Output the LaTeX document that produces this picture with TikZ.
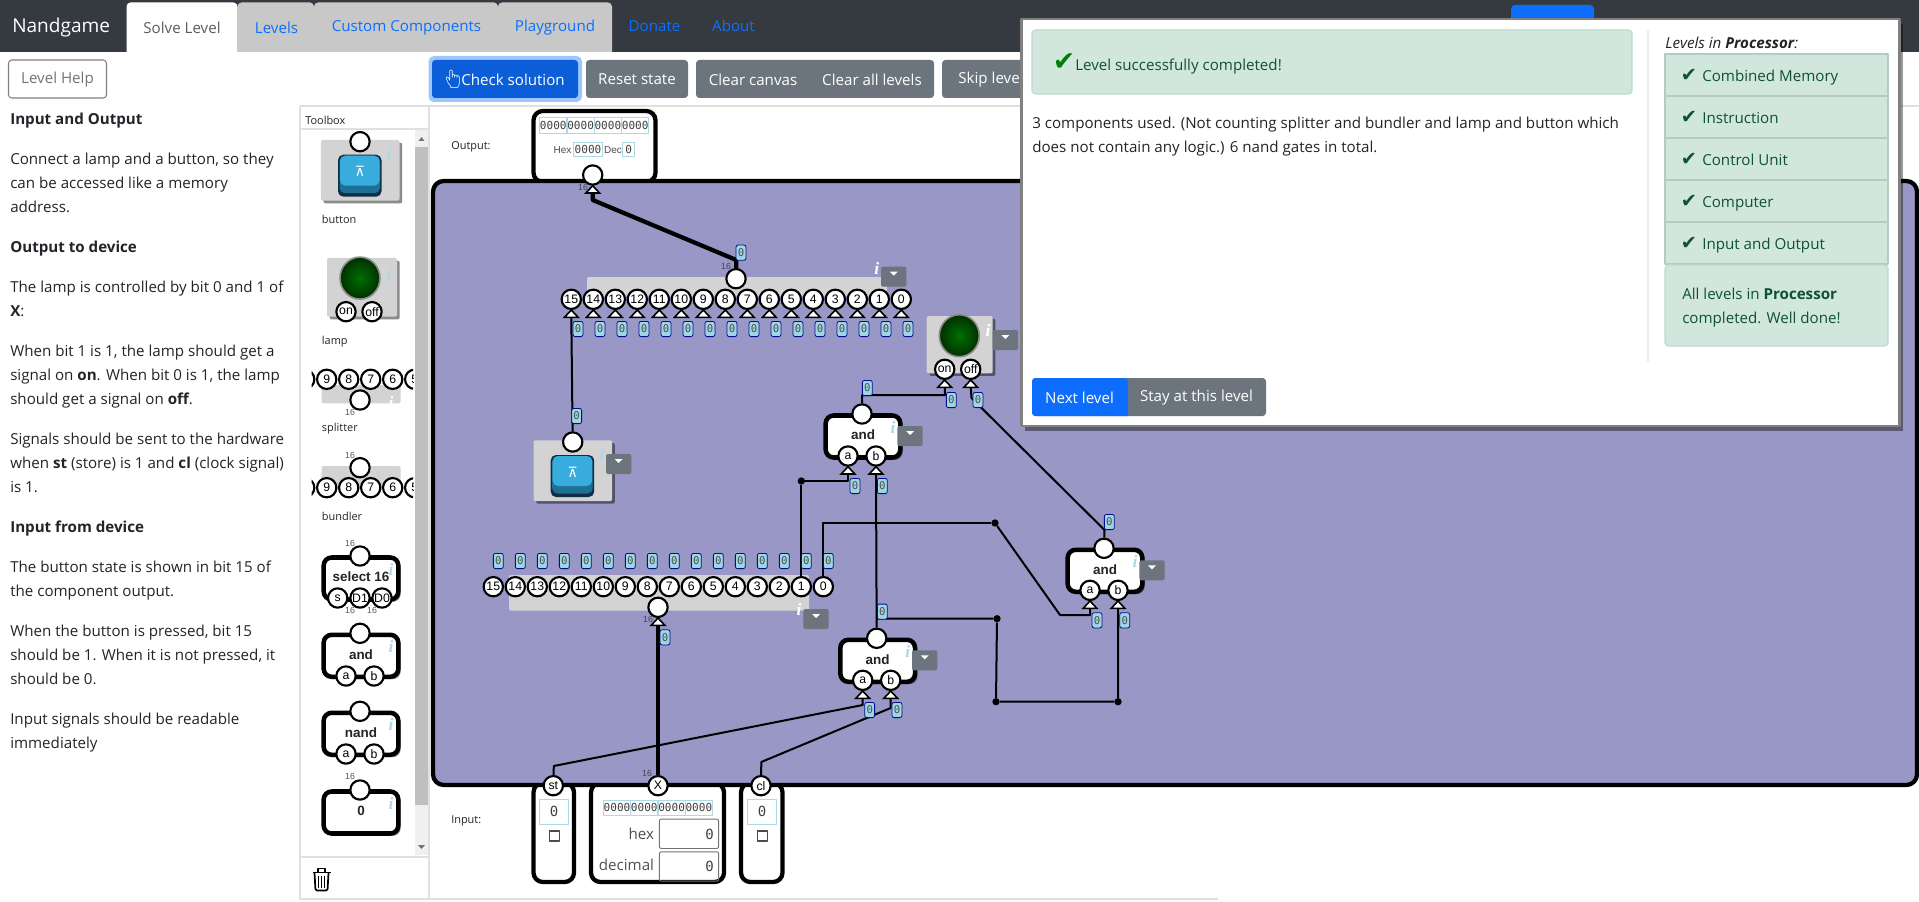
\documentclass[tikz,border=0pt]{standalone}
\usepackage{fontspec}
\setmainfont{Open Sans}
\newfontfamily\pinfont{Liberation Sans}
\newfontfamily\codefont{DejaVu Sans Mono}
\newfontfamily\dejafont{DejaVu Sans}
\newfontfamily\emojifont{Noto Emoji}
\newfontfamily\infofont{Liberation Serif}
\usetikzlibrary{shadows}

\definecolor{navdark}{HTML}{343A40}
\definecolor{tabgrey}{HTML}{C8C8C8}
\definecolor{linkblue}{HTML}{0D6EFD}
\definecolor{btngrey}{HTML}{6C757D}
\definecolor{bodyink}{HTML}{212529}
\definecolor{canvaspurple}{HTML}{9897C5}
\definecolor{partgrey}{HTML}{D3D3D3}
\definecolor{fieldblue}{HTML}{ADD8E6}
\definecolor{tagblue}{HTML}{A0D6E4}
\definecolor{tagnavy}{HTML}{00108C}
\definecolor{okgreen}{HTML}{D1E7DD}
\definecolor{okline}{HTML}{BADBCC}
\definecolor{okink}{HTML}{0F5132}
\definecolor{okedge}{HTML}{B4CBC1}
\definecolor{keytop}{HTML}{38ACDC}
\definecolor{keymid}{HTML}{1F7096}
\definecolor{keylow}{HTML}{0F2F45}
\definecolor{globein}{HTML}{007000}
\definecolor{globeout}{HTML}{003000}

\tikzset{
  uitext/.style={anchor=base west,inner sep=0pt,yshift=-0.7pt,text=bodyink,font=\fontsize{11.35}{14}\selectfont},
  btntext/.style={inner sep=0pt,text=white,font=\fontsize{11.35}{14}\selectfont},
  smalltext/.style={anchor=base west,inner sep=0pt,text=bodyink,font=\fontsize{8.2}{10}\selectfont},
  port/.style={circle,draw=black,line width=1.6pt,fill=white,minimum size=14.5pt,inner sep=0pt,text=black,font=\pinfont\fontsize{9.2}{10}\selectfont},
  tipmark/.style={draw=black,fill=white,line width=1.2pt,line join=miter},
  bittag/.style={draw=tagnavy,fill=tagblue,line width=0.6pt,rounded corners=1.5pt,minimum width=7.4pt,minimum height=11.4pt,inner sep=0pt,text=black!70,font=\codefont\fontsize{8}{9}\selectfont},
  wire/.style={draw=black,line width=1.5pt,line join=round},
  buswire/.style={draw=black,line width=3.2pt,line join=round},
  wiredot/.style={circle,fill=black,minimum size=5.5pt,inner sep=0pt},
  gatebox/.style={draw=black,fill=white,line width=3.4pt,rounded corners=6pt,minimum width=56pt,minimum height=31.5pt,inner sep=0pt,drop shadow={shadow xshift=1.8pt,shadow yshift=-1.8pt,opacity=.45,fill=black}},
  gatetext/.style={inner sep=0pt,text=bodyink,font=\pinfont\bfseries\fontsize{10.1}{12}\selectfont},
  partshadow/.style={fill=partgrey,rounded corners=1.5pt,drop shadow={shadow xshift=2pt,shadow yshift=-2pt,opacity=.45,fill=black}},
  iobox/.style={draw=black,fill=white,line width=3.2pt,rounded corners=7pt},
  menubox/.style={fill=btngrey,rounded corners=1.5pt,minimum width=19pt,minimum height=15pt,inner sep=0pt},
  infomark/.style={inner sep=0pt,text=fieldblue,font=\infofont\bfseries\itshape\fontsize{13}{13}\selectfont},
  bitnote/.style={inner sep=0pt,text=black!65,font=\pinfont\fontsize{6.6}{7}\selectfont},
  bitcell/.style={draw=fieldblue,line width=0.7pt,minimum height=11.4pt,inner sep=0pt,text=black!75,font=\codefont\fontsize{8.3}{9}\selectfont},
  valbox/.style={draw=fieldblue,line width=0.8pt,inner sep=0pt,text=black!75,font=\codefont\fontsize{10.5}{11}\selectfont},
  numbox/.style={draw=black!55,line width=0.7pt,rounded corners=1.5pt,inner sep=0pt,minimum width=44.5pt,minimum height=22pt},
  checkbox/.style={draw=black!70,line width=0.8pt,fill=white,minimum size=7.5pt,inner sep=0pt}
}

\newcommand{\printIn}[4]{
  \node[port] (#1) at (#2,#3) {#4};
  \filldraw[tipmark] (#2,#3+10.7) -- (#2+6.8,#3+18) -- (#2-6.8,#3+18) -- cycle;
  \coordinate (#1-w) at (#2,#3+18);
}
\newcommand{\printTag}[3]{\node[bittag] (#1) at (#2,#3) {0};}
\newcommand{\printMenu}[3]{
  \node[menubox] (#1) at (#2+12.7,#3+10) {};
  \fill[white] (#2+8.7,#3+5) -- (#2+16.7,#3+5) -- (#2+12.7,#3+9) -- cycle;
}
\newcommand{\printBody}[4]{
  \node[gatebox] (#1) at (#2+1,#3+22.5) {};
  \node[gatetext] (#1-t) at (#2+1,#3+21) {#4};
  \node[port] (#1-out) at (#2,#3) {};
  \node[infomark] (#1-i) at (#2+31,#3+13) {i};
}
\newcommand{\printGate}[4]{
  \printBody{#1}{#2}{#3}{#4}
  \printIn{#1-a}{#2-14}{#3+42}{a}
  \printIn{#1-b}{#2+14}{#3+42}{b}
  \printMenu{#1-m}{#2+35.3}{#3+12}
}
\newcommand{\printKey}[3]{
  \fill[partshadow] (#2-39.2,#3-1.7) rectangle (#2+39.5,#3+59);
  \fill[keylow,rounded corners=4pt] (#2-22,#3+13) rectangle (#2+21.5,#3+55);
  \fill[keymid,rounded corners=4pt] (#2-20.5,#3+14) rectangle (#2+20,#3+51.5);
  \fill[keytop,rounded corners=4pt] (#2-20,#3+14) rectangle (#2+19.5,#3+44);
  \node[port] (#1-out) at (#2,#3) {};
  \node[inner sep=0pt,text=white,font=\dejafont\fontsize{10.5}{11}\selectfont] (#1-sym) at (#2,#3+30) {⊼};
  \node[infomark] (#1-i) at (#2+29,#3+12) {i};
}
\newcommand{\printGlobe}[2]{
  \shade[inner color=globein,outer color=globeout,draw=black!45,line width=1.2pt] (#1+1.6,#2-33.6) ellipse (20 and 21);
}
\newcommand{\printBits}[3]{
  \foreach \c in {0,...,3} {
      \node[bitcell,minimum width=20.4pt] (#1-\c) at ({#2+13.7+27.3*\c},#3) {0000};
    }
}

\begin{document}
\begin{tikzpicture}[x=0.75pt,y=-0.75pt,line join=round]
  \useasboundingbox (0,0) rectangle (1919,902);

  % nav bar
  \fill[navdark] (0,0) rectangle (1919,52);
  \foreach \a/\b in {237.5/314,314/498,498/612} {
      \fill[tabgrey,rounded corners=3pt] (\a,2.5) rectangle (\b,60);
    }
  \fill[white,rounded corners=3pt] (126.5,2.5) rectangle (237.5,60);
  \fill[linkblue,rounded corners=3pt] (1511,5) rectangle (1594,30);
  \fill[white] (0,52) rectangle (1919,902);
  \node[anchor=base west,inner sep=0pt,text=white,font=\fontsize{14.3}{16}\selectfont] (brand) at (12,33) {Nandgame};
  \node[btntext,text=btngrey!80!black] (tabSolve) at (182,28) {Solve Level};
  \node[btntext,text=linkblue] (tabLevels) at (276.5,28) {Levels};
  \node[btntext,text=linkblue] (tabCustom) at (406.5,28) {Custom Components};
  \node[btntext,text=linkblue] (tabPlay) at (555,28) {Playground};
  \node[btntext,text=linkblue] (tabDonate) at (654.5,26) {Donate};
  \node[btntext,text=linkblue] (tabAbout) at (733.5,26) {About};

  % buttons
  \draw[black!50,line width=0.8pt,rounded corners=2.5pt] (8.5,60) rectangle (106.5,98);
  \node[btntext,text=btngrey] (btnHelp) at (57.5,79.5) {Level Help};
  \fill[linkblue!40!white,rounded corners=4pt] (428.5,56) rectangle (582,102);
  \fill[linkblue!85!black,rounded corners=2.5pt] (432,60) rectangle (578,98);
  \node[inner sep=0pt,text=white,font=\emojifont\fontsize{13.5}{14}\selectfont] (btnHand) at (453,79) {👆};
  \node[btntext] (btnCheck) at (513,79.5) {Check solution};
  \fill[btngrey,rounded corners=2.5pt] (586,60) rectangle (688,98);
  \node[btntext] (btnReset) at (637,79.5) {Reset state};
  \fill[btngrey,rounded corners=2.5pt] (696,60) rectangle (934,98);
  \node[btntext] (btnCanvas) at (753,79.5) {Clear canvas};
  \node[btntext] (btnAll) at (872,79.5) {Clear all levels};
  \fill[btngrey,rounded corners=2.5pt] (942,60) rectangle (1040,98);
  \node[btntext] (btnSkip) at (991,79.5) {Skip level};
  \draw[black!12,line width=0.8pt] (300,106) -- (1919,106);

  % help text
  \foreach \ty/\tx in {124/{\textbf{Input and Output}},
      164/{Connect a lamp and a button, so they},
      188/{can be accessed like a memory},
      212/{address.},
      252/{\textbf{Output to device}},
      292/{The lamp is controlled by bit 0 and 1 of},
      316/{\textbf{X}:},
      356/{When bit 1 is 1, the lamp should get a},
      380/{signal on \textbf{on}. When bit 0 is 1, the lamp},
      404/{should get a signal on \textbf{off}.},
      444/{Signals should be sent to the hardware},
      468/{when \textbf{st} (store) is 1 and \textbf{cl} (clock signal)},
      492/{is 1.},
      532/{\textbf{Input from device}},
      572/{The button state is shown in bit 15 of},
      596/{the component output.},
      636/{When the button is pressed, bit 15},
      660/{should be 1. When it is not pressed, it},
      684/{should be 0.},
      724/{Input signals should be readable},
      748/{immediately}} {
      \node[uitext] (help\ty) at (10,\ty) {\tx};
    }

  % toolbox
  \draw[black!12,line width=1.2pt] (300,106) -- (300,899) -- (429,899) -- (429,106);
  \draw[black!12,line width=0.8pt] (300,129) -- (429,129);
  \draw[black!12,line width=0.8pt] (300,857) -- (429,857);
  \draw[black!12,line width=0.8pt] (429,899) -- (1218,899);
  \node[smalltext] (toolTitle) at (305,125) {Toolbox};
  \fill[black!6] (415,130) rectangle (428,855);
  \fill[black!25] (415,147) rectangle (428,805);
  \fill[black!55] (418.5,141) -- (424.5,141) -- (421.5,137) -- cycle;
  \fill[black!55] (418,845) -- (425,845) -- (421.5,849) -- cycle;
  % trash can
  \draw[black,line width=1.1pt] (312.5,872.5) -- (330.5,872.5);
  \draw[black,line width=1.1pt] (318,872) -- (318,868.5) -- (325,868.5) -- (325,872);
  \draw[black,line width=1.3pt,rounded corners=1pt] (314.5,873) -- (315.5,890.5) -- (327.5,890.5) -- (328.5,873);
  \foreach \b in {318.7,321.5,324.3} {
      \draw[black,line width=1pt] (\b,876) -- (\b,887.5);
    }

  \printKey{toolKey}{360}{141.7}
  \node[smalltext] (labKey) at (321.7,224) {button};

  \fill[partshadow] (327,258) rectangle (397,316.7);
  \printGlobe{358.4}{311.7}
  \node[port] (toolLamp-on) at (346,311.7) {on};
  \node[port] (toolLamp-off) at (372,311.7) {off};
  \node[infomark] (toolLamp-i) at (389,273) {i};
  \node[smalltext] (labLamp) at (321.7,344) {lamp};

  \begin{scope}
    \clip (311.7,360) rectangle (413,500);
    \fill[partgrey,rounded corners=1.5pt] (321.7,385) rectangle (400.7,403.3);
    \node[infomark,text=white] (toolSplit-i) at (391,402) {i};
    \node[port] (toolSplit-in) at (360,400) {};
    \fill[partgrey,rounded corners=1.5pt] (321.7,466) rectangle (400.7,490);
    \node[port] (toolBund-out) at (360,467.7) {};
    \foreach \k in {5,...,10} {
        \node[port] (toolSplit-\k) at ({326.7+22*(9-\k)},379.3) {\k};
        \node[port] (toolBund-\k) at ({326.7+22*(9-\k)},487.7) {\k};
      }
  \end{scope}
  \node[bitnote] (noteSplit) at (350,412) {16};
  \node[smalltext] (labSplit) at (321.7,431.5) {splitter};
  \node[bitnote] (noteBund) at (350,455) {16};
  \node[smalltext] (labBund) at (321.7,520) {bundler};

  \printBody{toolSel}{360}{556}{select 16}
  \node[port] (toolSel-s) at (337.7,598) {s};
  \node[port] (toolSel-d1) at (360,598) {D1};
  \node[port] (toolSel-d0) at (382,598) {D0};
  \node[bitnote] (noteSelA) at (350,543) {16};
  \node[bitnote] (noteSelB) at (350,610) {16};
  \node[bitnote] (noteSelC) at (372,610) {16};

  \printBody{toolAnd}{360}{633.3}{and}
  \node[port] (toolAnd-a) at (346,676) {a};
  \node[port] (toolAnd-b) at (374,676) {b};
  \printBody{toolNand}{360}{711.3}{nand}
  \node[port] (toolNand-a) at (346,754) {a};
  \node[port] (toolNand-b) at (374,754) {b};
  \printBody{toolZero}{360}{790}{0}
  \node[bitnote] (noteZero) at (350,776.7) {16};

  % io boxes, the canvas covers their far ends
  \draw[iobox] (533.5,111) rectangle (655.5,182);
  \draw[iobox] (533.5,783) rectangle (574,882);
  \draw[iobox] (591,783) rectangle (724,882);
  \draw[iobox] (741,783) rectangle (782.5,882);
  \draw[draw=black,fill=canvaspurple,line width=3.2pt,rounded corners=8pt] (433,181) rectangle (1917,785);
  \node[smalltext] (labOut) at (451,150) {Output:};
  \node[smalltext] (labIn) at (451,823) {Input:};

  % output box
  \printBits{outBits}{539.6}{125.5}
  \node[bitnote,text=black!70,font=\pinfont\fontsize{7.5}{8}\selectfont] (outHex) at (562.5,150) {Hex};
  \node[valbox,font=\codefont\fontsize{8.3}{9}\selectfont,minimum width=22pt,minimum height=11pt] (outHexVal) at (588,149.5) {0000};
  \node[bitnote,text=black!70,font=\pinfont\fontsize{7.5}{8}\selectfont] (outDec) at (613,150) {Dec};
  \node[valbox,font=\codefont\fontsize{8.3}{9}\selectfont,minimum width=9pt,minimum height=11pt] (outDecVal) at (628.6,149.5) {0};
  \printIn{outIn}{592.7}{175}{}
  \node[bitnote,text=black!55!canvaspurple] (noteOut) at (583,187) {16};

  % input boxes
  \node[valbox,minimum width=22pt,minimum height=19pt] (stVal) at (554,811.8) {0};
  \node[checkbox] (stChk) at (554.3,836) {};
  \node[port] (stPin) at (553.3,785.7) {st};
  \node[valbox,minimum width=22pt,minimum height=19pt] (clVal) at (762,811.8) {0};
  \node[checkbox] (clChk) at (762.3,836) {};
  \node[port] (clPin) at (761,785.7) {cl};
  \printBits{xBits}{603.3}{807.8}
  \node[inner sep=0pt,anchor=base east,text=bodyink!80,font=\fontsize{11.35}{14}\selectfont] (xHex) at (654.3,839) {hex};
  \node[inner sep=0pt,anchor=base east,text=bodyink!80,font=\fontsize{11.35}{14}\selectfont] (xDec) at (654.3,870.5) {decimal};
  \node[numbox] (xHexBox) at (689,833.8) {};
  \node[numbox] (xDecBox) at (689,866.5) {};
  \node[anchor=east,inner sep=0pt,text=black!75,font=\codefont\fontsize{10.5}{11}\selectfont] (xHexVal) at (714,834) {0};
  \node[anchor=east,inner sep=0pt,text=black!75,font=\codefont\fontsize{10.5}{11}\selectfont] (xDecVal) at (714,866) {0};
  \node[port] (xPin) at (658,785.7) {X};
  \node[bitnote,text=black!55!canvaspurple] (noteX) at (647,773) {16};

  % bundler on top
  \fill[partgrey,rounded corners=1.5pt] (587,277) rectangle (887,296);
  \node[port] (bundTop-out) at (736,278.7) {};
  \node[infomark,text=white] (bundTop-i) at (876.7,268) {i};
  \printMenu{bundTop-m}{881}{266.7}
  \node[bitnote,text=black!55!canvaspurple] (noteBundTop) at (726,266) {16};
  \foreach \k in {0,...,15} {
      \printIn{bundTop-\k}{901.3-22*\k}{299.3}{\k}
    }

  % splitter below
  \fill[partgrey,rounded corners=1.5pt] (509,575) rectangle (809,610.7);
  \foreach \k in {0,...,15} {
      \node[port] (splitLow-\k) at ({823.3-22*\k},586.7) {\k};
    }
  \node[infomark,text=white] (splitLow-i) at (799,609.3) {i};
  \printMenu{splitLow-m}{803.3}{609}
  \printIn{splitLow-in}{658}{607.3}{}
  \node[bitnote,text=black!55!canvaspurple] (noteSplitLow) at (648,619.3) {16};

  % parts on the canvas
  \printKey{keyA}{572.7}{442}
  \printMenu{keyA-m}{606}{454}
  \fill[partshadow] (926.7,316) rectangle (992.7,373.3);
  \printGlobe{957.7}{369.3}
  \printIn{lampA-on}{944.7}{369.3}{on}
  \printIn{lampA-off}{970.7}{369.3}{off}
  \node[infomark,text=white] (lampA-i) at (988,330) {i};
  \printMenu{lampA-m}{992.7}{330}
  \printGate{andA}{862}{414}{and}
  \printGate{andB}{876.7}{638.3}{and}
  \printGate{andC}{1104}{548.3}{and}

  % wires
  \coordinate (busA) at (592.7,200);
  \coordinate (busB) at (736.3,260);
  \draw[buswire] (outIn-w) -- (busA) -- (busB) -- (bundTop-out);
  \draw[buswire] (splitLow-in-w) -- (xPin);
  \draw[wire] (bundTop-15-w) -- (keyA-out);

  \node[wiredot] (dotA) at (801.3,481) {};
  \node[wiredot] (dotB) at (995,523) {};
  \node[wiredot] (dotC) at (1118,701.7) {};
  \node[wiredot] (dotD) at (996,701.7) {};
  \node[wiredot] (dotE) at (997,618.7) {};
  \coordinate (bendA) at (945,395);
  \coordinate (bendB) at (971.5,398);
  \coordinate (bendC) at (1104.5,530);
  \coordinate (bendD) at (1060,615);
  \coordinate (bendE) at (862.7,705);
  \coordinate (bendF) at (553.8,766);
  \coordinate (bendG) at (890.7,708);
  \coordinate (bendH) at (761.3,762);
  \coordinate (joinA) at (876.7,618.7);

  \draw[wire] (splitLow-1) -- (dotA);
  \draw[wire] (dotA) -| (andA-a-w);
  \draw[wire] (splitLow-0) |- (dotB);
  \draw[wire] (dotB) -- (bendD) -| (andC-a-w);
  \draw[wire] (andA-out) |- (bendA) -- (lampA-on-w);
  \draw[wire] (lampA-off-w) -- (bendB) -- (bendC) -- (andC-out);
  \draw[wire] (andB-out) -- (andA-b-w);
  \draw[wire] (andC-b-w) -- (dotC) -- (dotD) -- (dotE) -- (joinA);
  \draw[wire] (andB-a-w) -- (bendE) -- (bendF) -- (stPin);
  \draw[wire] (andB-b-w) -- (bendG) -- (bendH) -- (clPin);

  % signal tags
  \printTag{tagBundOut}{741}{252.7}
  \printTag{tagKey}{576.7}{416}
  \foreach \k in {0,...,15} {
      \printTag{tagTop\k}{908-22*\k}{329}
      \printTag{tagLow\k}{828.3-22*\k}{561}
    }
  \printTag{tagSplitIn}{665}{637.3}
  \printTag{tagOn}{951.3}{400}
  \printTag{tagOff}{978}{400}
  \printTag{tagAndA}{867.3}{388}
  \printTag{tagAndAa}{855}{486}
  \printTag{tagAndAb}{882.3}{486}
  \printTag{tagAndB}{882.3}{611.7}
  \printTag{tagAndBa}{869.7}{710}
  \printTag{tagAndBb}{897}{710}
  \printTag{tagAndC}{1109.3}{522}
  \printTag{tagAndCa}{1097}{620.3}
  \printTag{tagAndCb}{1124.7}{620.3}

  % result dialog
  \fill[black,opacity=.4] (1025,24) rectangle (1903,431);
  \filldraw[draw=black!50,fill=white,line width=2.2pt] (1021.5,19) rectangle (1899.5,426);
  \filldraw[draw=okline,fill=okgreen,line width=0.8pt,rounded corners=2.5pt] (1032,30) rectangle (1632,94);
  \node[inner sep=0pt,text=green!50!black,font=\dejafont\fontsize{20}{20}\selectfont] (okMark) at (1064,62) {✔};
  \node[uitext,text=okink] (okText) at (1075,70) {Level successfully completed!};
  \node[uitext] (sumA) at (1032,128) {3 components used. (Not counting splitter and bundler and lamp and button which};
  \node[uitext] (sumB) at (1032,152) {does not contain any logic.) 6 nand gates in total.};
  \draw[black!7,line width=0.8pt] (1648,30) -- (1648,362);
  \node[uitext] (listTitle) at (1665,48) {\textit{Levels in \textbf{Processor}:}};
  \foreach \yy/\tx in {54/Combined Memory,96/Instruction,138/Control Unit,180/Computer,222/Input and Output} {
      \filldraw[draw=okedge,fill=okgreen,line width=0.8pt] (1665,\yy) rectangle (1888,\yy+42);
      \node[inner sep=0pt,text=okink,font=\dejafont\fontsize{14.5}{15}\selectfont] (mark\yy) at (1689,\yy+21) {✔};
      \node[uitext,text=okink] (item\yy) at (1702,\yy+27) {\tx};
    }
  \filldraw[draw=okline,fill=okgreen,line width=0.8pt,rounded corners=2.5pt] (1665,265) rectangle (1888,346);
  \node[uitext,text=okink] (doneA) at (1682,299) {All levels in \textbf{Processor}};
  \node[uitext,text=okink] (doneB) at (1682,323) {completed. Well done!};
  \fill[btngrey,rounded corners=2.5pt] (1032,378) rectangle (1266,416);
  \fill[linkblue,rounded corners=2.5pt] (1032,378) -- (1128,378) [sharp corners] -- (1128,416) [rounded corners=2.5pt] -- (1032,416) -- cycle;
  \node[btntext] (btnNext) at (1079.5,397.5) {Next level};
  \node[btntext] (btnStay) at (1196.5,397.5) {Stay at this level};
\end{tikzpicture}
\end{document}
